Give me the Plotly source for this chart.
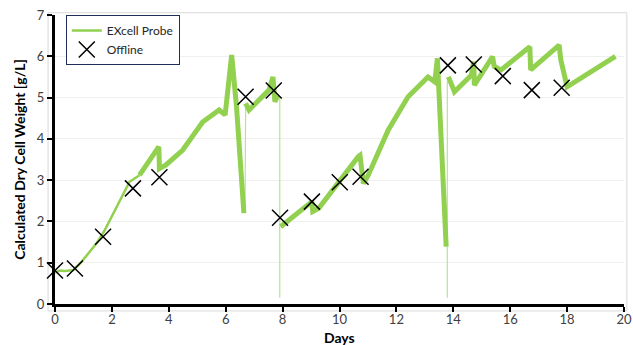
import plotly.graph_objects as go

# Offline samples
offline_days = [0.0, 0.70, 1.69, 2.74, 3.67, 6.70, 7.69, 7.91, 9.03, 10.01, 10.74, 13.81, 14.72, 15.74, 16.76, 17.81]
offline_dcw = [0.81, 0.86, 1.63, 2.80, 3.07, 5.02, 5.17, 2.09, 2.48, 2.95, 3.08, 5.78, 5.80, 5.52, 5.18, 5.24]

# EXcell probe signal (early thin part)
probe_a_days = [0.0, 0.17, 0.35, 0.64, 0.93, 1.46, 1.75, 2.16, 2.62, 2.97]
probe_a_dcw = [0.76, 0.81, 0.80, 0.82, 1.02, 1.47, 1.79, 2.36, 2.96, 3.12]

# EXcell probe signal (main part, None = gap)
probe_b_days = [2.97, 3.61, 3.65, 3.67, 3.90, 4.49, 5.19, 5.77, 5.98, 6.21, 6.38, 6.64, None,
                6.70, 6.82, 7.52, 7.66, 7.73, 7.82, None,
                7.93, 9.03, 9.06, 9.27, 10.66, 10.72, 10.84, 11.01, 11.71, 11.95, 12.41, 13.11, 13.35,
                13.44, 13.60, 13.75, None,
                13.83, 14.04, 14.63, 14.72, 14.74, 15.38, 15.44, 15.68, 16.69, 16.72, 17.72, 17.78,
                18.00, 19.70]
probe_b_dcw = [3.12, 3.77, 3.81, 3.28, 3.37, 3.73, 4.41, 4.70, 4.58, 6.03, 4.78, 2.20, None,
               4.86, 4.70, 5.18, 5.50, 4.90, 5.05, None,
               1.87, 2.48, 2.24, 2.32, 3.57, 3.60, 2.92, 3.12, 4.21, 4.50, 5.02, 5.50, 5.38,
               5.95, 3.49, 1.39, None,
               5.50, 5.14, 5.54, 5.87, 5.30, 5.99, 5.75, 5.67, 6.23, 5.67, 6.27, 5.91,
               5.26, 6.00]

# Thin spikes of the probe signal
spike_days = [6.68, 6.70, None, 7.90, 7.90, None, 13.79, 13.79]
spike_dcw = [2.20, 4.75, None, 5.00, 0.15, None, 0.15, 5.40]

x_ticks = [0, 2, 4, 6, 8, 10, 12, 14, 16, 18, 20]
y_ticks = [0, 1, 2, 3, 4, 5, 6, 7]

GREEN = "#92D050"
FONT = "Lato"

fig = go.Figure()
fig.add_trace(go.Scatter(x=spike_days, y=spike_dcw, mode="lines",
                         line=dict(color="#B9E394", width=1.2),
                         showlegend=False, hoverinfo="skip", legendgroup="probe"))
fig.add_trace(go.Scatter(x=probe_a_days, y=probe_a_dcw, mode="lines",
                         line=dict(color=GREEN, width=2.5),
                         name="EXcell Probe", legendgroup="probe", showlegend=True))
fig.add_trace(go.Scatter(x=probe_b_days, y=probe_b_dcw, mode="lines",
                         line=dict(color=GREEN, width=5),
                         showlegend=False, legendgroup="probe", connectgaps=False))
fig.add_trace(go.Scatter(x=offline_days, y=offline_dcw, mode="markers", name="Offline",
                         marker=dict(symbol="x-thin", size=16, color="black",
                                     line=dict(color="black", width=1.5)),
                         cliponaxis=False))

fig.update_layout(
    width=633, height=345,
    margin=dict(l=55, r=9, t=15, b=41),
    paper_bgcolor="white", plot_bgcolor="white",
    font=dict(family=FONT, size=13, color="#404040"),
    showlegend=True,
    legend=dict(x=0.019, y=1.0, xanchor="left", yanchor="top",
                bgcolor="white", bordercolor="#1F2D5A", borderwidth=1,
                font=dict(family=FONT, size=12, color="#262626"),
                tracegroupgap=0, itemwidth=30),
    shapes=[dict(type="rect", xref="paper", yref="paper",
                 x0=-0.0122, x1=1.005, y0=-0.024, y1=1.008,
                 line=dict(color="#D9D9D9", width=1), layer="below")],
    annotations=[dict(text="<b>Days</b>", xref="paper", yref="paper", x=0.5, y=-0.1176,
                      xanchor="center", yanchor="middle", showarrow=False,
                      font=dict(family=FONT, size=14, color="black"))],
)
fig.update_xaxes(range=[0, 20], tickvals=x_ticks, ticks="outside", ticklen=5, tickwidth=2,
                 tickcolor="black", showline=True, linecolor="black", linewidth=3,
                 showgrid=False, zeroline=False, ticklabeloverflow="allow", automargin=False,
                 ticklabelstandoff=-4,
                 tickfont=dict(family=FONT, size=13, color="#404040"))
fig.update_yaxes(range=[0, 7], tickvals=y_ticks, ticks="outside", ticklen=5, tickwidth=2,
                 tickcolor="black", showline=True, linecolor="black", linewidth=3,
                 showgrid=True, gridcolor="#F0F0F0", gridwidth=1, zeroline=False, automargin=False,
                 title=dict(text="<b>Calculated Dry Cell Weight [g/L]</b>",
                            font=dict(family=FONT, size=14, color="black"), standoff=8),
                 tickfont=dict(family=FONT, size=13, color="#404040"))

fig.write_html("out.html")
